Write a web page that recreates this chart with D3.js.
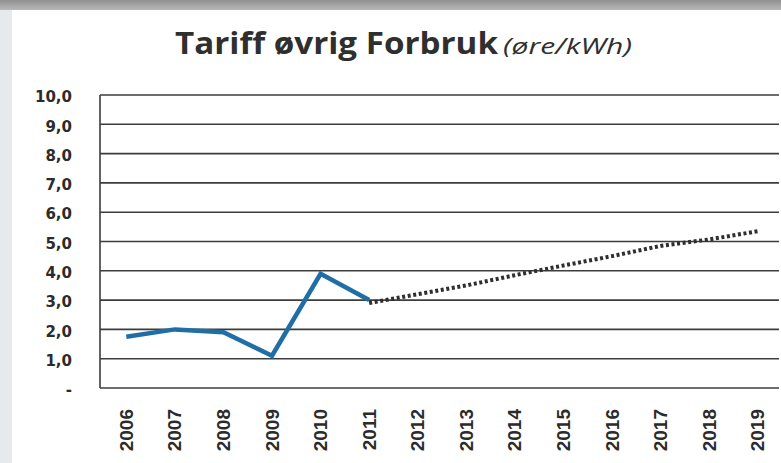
<!DOCTYPE html>
<html>
<head>
<meta charset="utf-8">
<script src="https://cdn.jsdelivr.net/npm/d3@7"></script>
<style>
    html, body { margin: 0; padding: 0; background: #fff; }
    svg { display: block; }
</style>
</head>
<body>
<div id="chart"></div>
<script>
    let years = ["2006", "2007", "2008", "2009", "2010", "2011", "2012",
        "2013", "2014", "2015", "2016", "2017", "2018", "2019"];

    // actual tariff 2006-2011
    let actualYears = ["2006", "2007", "2008", "2009", "2010", "2011"];
    let actualValues = [1.75, 2.0, 1.9, 1.1, 3.9, 3.0];

    // forecast 2011-2019 (dotted)
    let forecastYears = ["2011", "2012", "2013", "2014", "2015", "2016", "2017", "2018", "2019"];
    let forecastValues = [2.9, 3.2, 3.5, 3.85, 4.18, 4.5, 4.85, 5.07, 5.35];

    let yTicks = [0, 1, 2, 3, 4, 5, 6, 7, 8, 9, 10];

    let chartWidth = 781;
    let chartHeight = 463;

    let plotLeft = 100,
        plotRight = 779,
        plotTop = 95,
        plotBottom = 388;

    let svg = d3.select("#chart").append("svg")
        .attr("width", chartWidth)
        .attr("height", chartHeight);

    // scanned page look: gray strip on top and on the left
    let defs = svg.append("defs");
    let grad = defs.append("linearGradient")
        .attr("id", "topbar")
        .attr("x1", 0).attr("y1", 0).attr("x2", 0).attr("y2", 1);
    grad.append("stop").attr("offset", "0%").attr("stop-color", "#8f8f8f");
    grad.append("stop").attr("offset", "100%").attr("stop-color", "#b9b9b9");

    svg.append("rect")
        .attr("x", 0).attr("y", 0)
        .attr("width", 12).attr("height", chartHeight)
        .attr("fill", "#e7eaed");
    svg.append("rect")
        .attr("x", 0).attr("y", 0)
        .attr("width", chartWidth).attr("height", 10)
        .attr("fill", "url(#topbar)");

    let x = d3.scaleBand()
        .domain(years)
        .range([102, 782]);

    let y = d3.scaleLinear()
        .domain([0, 10])
        .range([plotBottom, plotTop]);

    function xc(d) {
        return x(d) + x.bandwidth() / 2;
    }

    // gridlines
    svg.append("g")
        .selectAll("line")
        .data(yTicks)
        .enter()
        .append("line")
        .attr("x1", plotLeft)
        .attr("x2", plotRight)
        .attr("y1", d => y(d))
        .attr("y2", d => y(d))
        .attr("stroke", "#3c3c3c")
        .attr("stroke-width", 1.6);

    // left frame
    svg.append("line")
        .attr("x1", plotLeft).attr("x2", plotLeft)
        .attr("y1", plotTop).attr("y2", plotBottom)
        .attr("stroke", "#3c3c3c")
        .attr("stroke-width", 1.6);

    // y labels
    svg.append("g")
        .selectAll("text")
        .data(yTicks)
        .enter()
        .append("text")
        .attr("x", 72)
        .attr("y", d => y(d) + 2)
        .attr("dy", ".35em")
        .attr("text-anchor", "end")
        .attr("font-family", "DejaVu Sans")
        .attr("font-weight", "bold")
        .attr("font-size", 15)
        .attr("fill", "#2b2b2b")
        .text(d => d === 0 ? "-" : d3.format(".1f")(d).replace(".", ","));

    // x labels, rotated
    svg.append("g")
        .selectAll("text")
        .data(years)
        .enter()
        .append("text")
        .attr("transform", d => "translate(" + (xc(d) + 6.5) + ",409) rotate(-90)")
        .attr("text-anchor", "end")
        .attr("font-family", "Liberation Sans")
        .attr("font-weight", "bold")
        .attr("font-size", 19)
        .attr("fill", "#2b2b2b")
        .text(d => d);

    let line = d3.line()
        .x(d => xc(d[0]))
        .y(d => y(d[1]));

    svg.append("path")
        .datum(d3.zip(forecastYears, forecastValues))
        .attr("fill", "none")
        .attr("stroke", "#2e2e2e")
        .attr("stroke-width", 4)
        .attr("stroke-dasharray", "3,2.6")
        .attr("d", line);

    svg.append("path")
        .datum(d3.zip(actualYears, actualValues))
        .attr("fill", "none")
        .attr("stroke", "#1f6ea6")
        .attr("stroke-width", 4.5)
        .attr("stroke-linejoin", "miter")
        .attr("d", line);

    // title
    svg.append("text")
        .attr("x", 175)
        .attr("y", 54)
        .attr("font-family", "Open Sans")
        .attr("font-weight", "bold")
        .attr("font-size", 30)
        .attr("textLength", 323)
        .attr("lengthAdjust", "spacingAndGlyphs")
        .attr("fill", "#2f2f2f")
        .text("Tariff øvrig Forbruk");
    svg.append("text")
        .attr("x", 503)
        .attr("y", 54)
        .attr("font-family", "Open Sans")
        .attr("font-style", "italic")
        .attr("font-size", 22)
        .attr("textLength", 129)
        .attr("lengthAdjust", "spacingAndGlyphs")
        .attr("fill", "#2f2f2f")
        .text("(øre/kWh)");
</script>
</body>
</html>
